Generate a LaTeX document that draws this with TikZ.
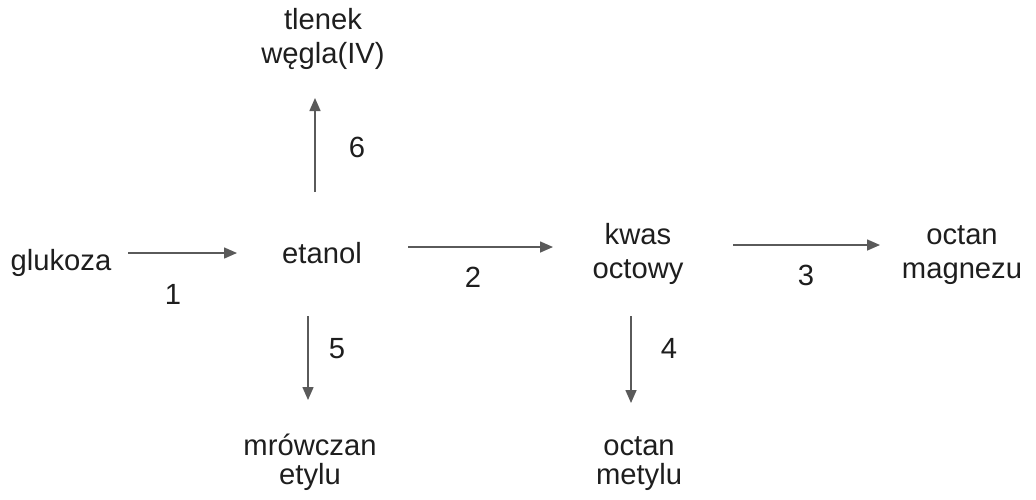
\documentclass[tikz,border=0pt]{standalone}
\usepackage{fontspec}
\setmainfont{Liberation Sans}
\usetikzlibrary{arrows.meta}
\definecolor{txt}{HTML}{1E1E1E}
\definecolor{arrgray}{HTML}{5A5A5A}
\begin{document}
\begin{tikzpicture}[x=0.5pt,y=-0.5pt,
  lbl/.style={text=txt,inner sep=0pt,anchor=base,align=center,font=\fontsize{14.6}{17}\selectfont},
  lbltwo/.style={lbl,font=\fontsize{14.6}{14.3}\selectfont},
  num/.style={text=txt,inner sep=0pt,anchor=base,font=\fontsize{14.6}{17}\selectfont},
  rx/.style={draw=arrgray,line width=0.75pt,-{Triangle[length=6.5pt,width=5.5pt]}}]
\useasboundingbox (0,0) rectangle (1036,499);
% substances (base anchor = baseline of last line)
\node[lbl] (glukoza) at (61,270) {glukoza};
\node[lbl] (etanol) at (322,263) {etanol};
\node[lbl] (tlenek) at (323,63) {tlenek\\węgla(IV)};
\node[lbl] (kwas) at (638,278) {kwas\\octowy};
\node[lbl] (magnez) at (962,278) {octan\\magnezu};
\node[lbltwo] (mrowczan) at (310,484) {mrówczan\\etylu};
\node[lbltwo] (metyl) at (639,484) {octan\\metylu};
% reaction numbers
\node[num] (n1) at (173,304) {1};
\node[num] (n2) at (473,287) {2};
\node[num] (n3) at (806,285) {3};
\node[num] (n4) at (669,358) {4};
\node[num] (n5) at (337,358) {5};
\node[num] (n6) at (357,157) {6};
% arrow ends
\coordinate (a1s) at (128,253); \coordinate (a1e) at (237,253);
\coordinate (a2s) at (408,247); \coordinate (a2e) at (553,247);
\coordinate (a3s) at (733,245); \coordinate (a3e) at (880,245);
\coordinate (a4s) at (631,316); \coordinate (a4e) at (631,403);
\coordinate (a5s) at (308,316); \coordinate (a5e) at (308,400);
\coordinate (a6s) at (315,192); \coordinate (a6e) at (315,98);
\draw[rx] (a1s) -- (a1e);
\draw[rx] (a2s) -- (a2e);
\draw[rx] (a3s) -- (a3e);
\draw[rx] (a4s) -- (a4e);
\draw[rx] (a5s) -- (a5e);
\draw[rx] (a6s) -- (a6e);
\end{tikzpicture}
\end{document}
